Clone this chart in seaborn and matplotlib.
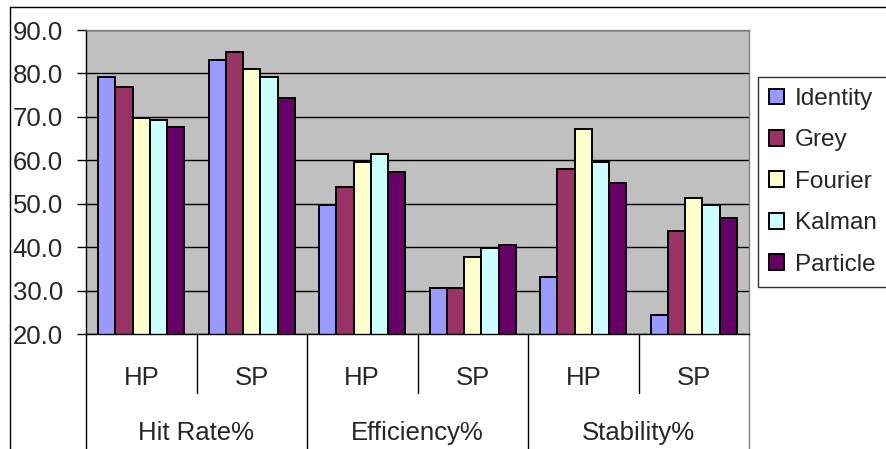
import numpy as np
import pandas as pd
import seaborn as sns
import matplotlib.pyplot as plt
from matplotlib.lines import Line2D

methods = ["Identity", "Grey", "Fourier", "Kalman", "Particle"]
metrics = ["Hit Rate%", "Efficiency%", "Stability%"]
subsets = ["HP", "SP"]

# values per method, ordered Hit Rate HP/SP, Efficiency HP/SP, Stability HP/SP
identity = [79.1, 83.2, 49.6, 30.7, 33.2, 24.4]
grey = [76.9, 84.9, 53.8, 30.7, 58.0, 43.8]
fourier = [69.8, 81.1, 59.6, 37.8, 67.3, 51.3]
kalman = [69.3, 79.1, 61.4, 39.9, 59.6, 49.6]
particle = [67.7, 74.4, 57.2, 40.4, 54.7, 46.7]

colors = ["#9999FF", "#993366", "#FFFFCC", "#CCFFFF", "#660066"]

cells = [m + "|" + s for m in metrics for s in subsets]
rows = []
for name, vals in zip(methods, [identity, grey, fourier, kalman, particle]):
    for c, v in zip(cells, vals):
        rows.append({"cell": c, "method": name, "value": v})
data = pd.DataFrame(rows)

sns.set_style("white")
plt.rcParams['font.family'] = ['Liberation Sans', 'DejaVu Sans']

fig = plt.figure(figsize=(8.86, 4.49), dpi=100)
ax = fig.add_axes([86 / 886, 1 - 334 / 449, (749 - 86) / 886, (334 - 30) / 449])

sns.barplot(data=data, x="cell", y="value", hue="method", order=cells,
            hue_order=methods, palette=colors, width=0.78, gap=0,
            edgecolor="black", linewidth=1.4, saturation=1, ax=ax)

ax.set_facecolor("#C0C0C0")
ax.set_ylim(20, 90)
ax.set_xlim(-0.5, 5.5)
ax.set_yticks(np.arange(20, 91, 10))
ax.set_yticklabels([f"{v:.1f}" for v in np.arange(20, 91, 10)])
ax.yaxis.grid(True, color="black", linewidth=1)
ax.set_axisbelow(True)
ax.set_xlabel("")
ax.set_ylabel("")
ax.set_xticks([])
ax.tick_params(axis="y", left=True, length=6.5, width=1, pad=10,
               labelsize=18.5, direction="out", color="black")
for side in ["top", "right"]:
    ax.spines[side].set_color("#808080")
for side in ["left", "bottom"]:
    ax.spines[side].set_color("black")
for s in ax.spines.values():
    s.set_linewidth(1)

# two-level category axis
trans = ax.get_xaxis_transform()
for i, c in enumerate(cells):
    ax.text(i, -0.168, c.split("|")[1], transform=trans, ha="center",
            va="baseline", fontsize=18.5)
for j, m in enumerate(metrics):
    ax.text(2 * j + 0.5, -0.349, m, transform=trans, ha="center",
            va="baseline", fontsize=18.5)
for k in range(7):
    x = k - 0.5
    if k % 2 == 0:
        col = "#808080" if k == 6 else "black"
        ax.add_line(Line2D([x, x], [0, -0.4], transform=trans, color=col,
                           linewidth=1, clip_on=False))
    else:
        ax.add_line(Line2D([x, x], [0, -0.194], transform=trans, color="black",
                           linewidth=1, clip_on=False))

handles, labels = ax.get_legend_handles_labels()
ax.legend(handles, labels, loc="upper left", bbox_to_anchor=(758 / 886, 1 - 77 / 449),
          bbox_transform=fig.transFigure, frameon=True, fancybox=False,
          edgecolor="black", fontsize=17.5, handlelength=0.62, handleheight=0.62,
          handletextpad=0.45, labelspacing=0.8, borderpad=0.45, borderaxespad=0)
ax.get_legend().get_frame().set_linewidth(1)

# outer chart frame
fig.add_artist(Line2D([10 / 886, 1], [1 - 7 / 449, 1 - 7 / 449], color="black", linewidth=1))
fig.add_artist(Line2D([10 / 886, 10 / 886], [0, 1 - 7 / 449], color="black", linewidth=1))

plt.savefig("out.png", dpi=100)
